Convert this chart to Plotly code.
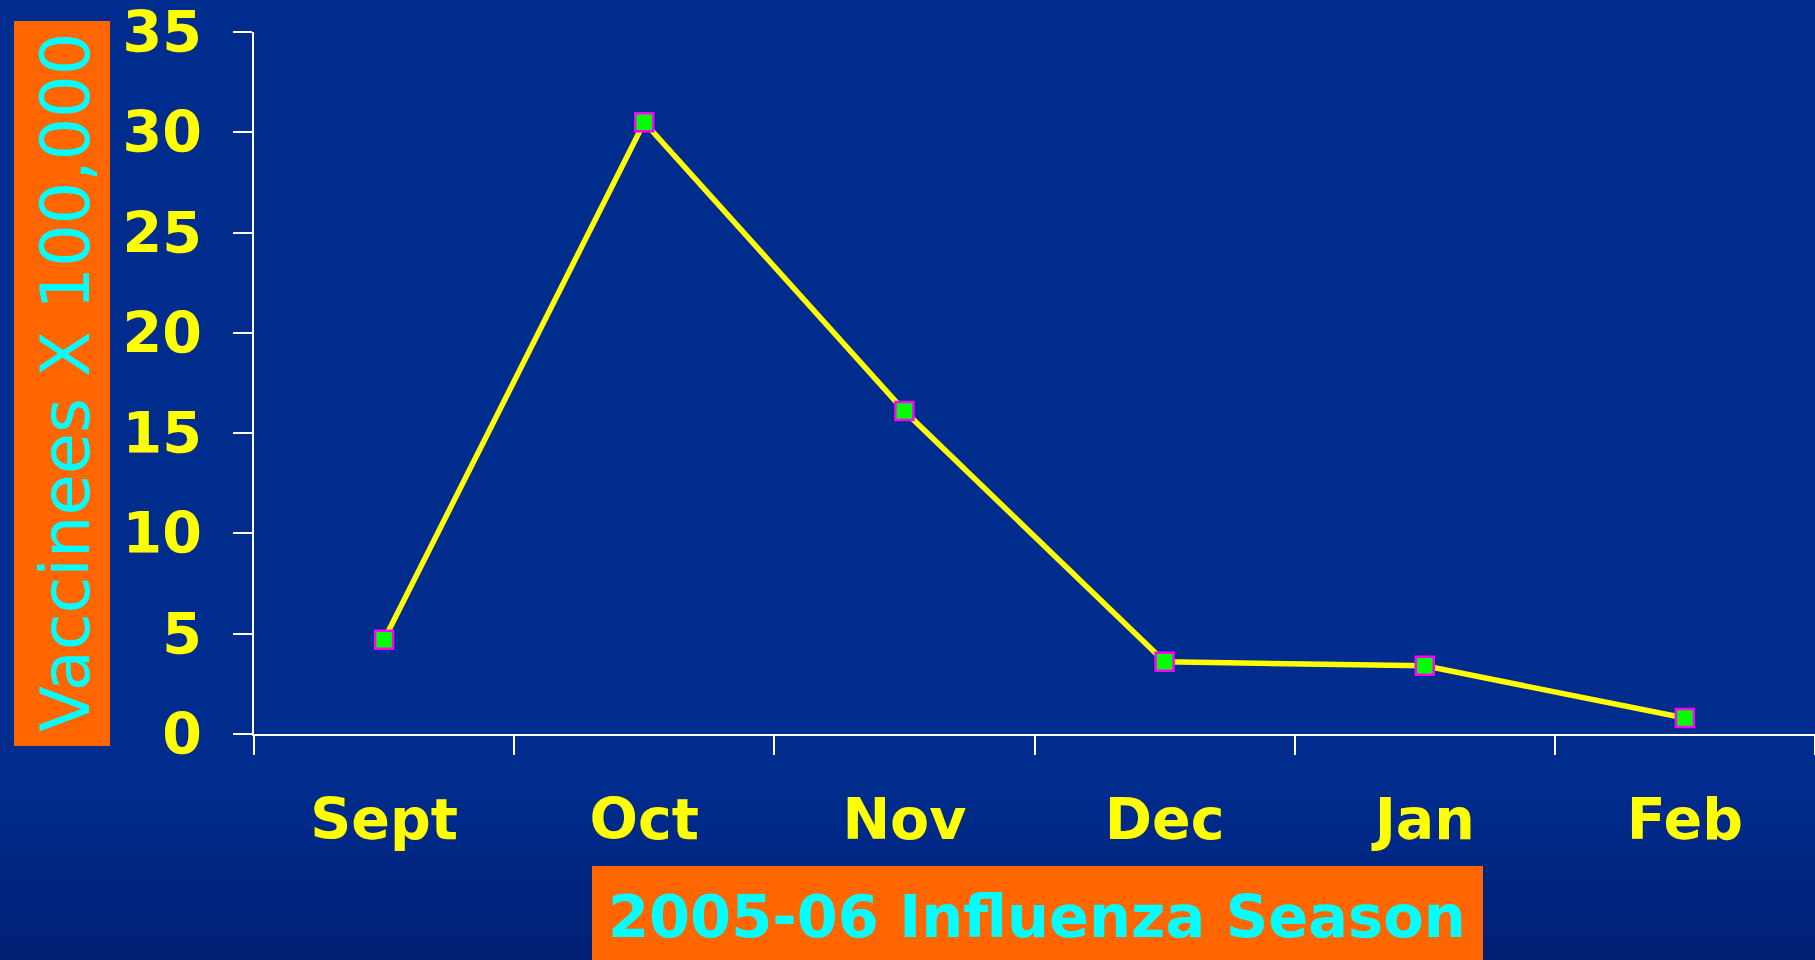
import plotly.graph_objects as go

# ---- data ----
months = ["Sept", "Oct", "Nov", "Dec", "Jan", "Feb"]
vaccinees = [4.7, 30.5, 16.1, 3.6, 3.4, 0.8]   # Vaccinees x 100,000
y_ticks = [0, 5, 10, 15, 20, 25, 30, 35]
y_title = "Vaccinees X 100,000"
x_title = "2005-06 Influenza Season"

W, H = 1815, 960
L, R, T, B = 254, 0, 32, 226
PW, PH = W - L - R, H - T - B

def px(x):
    return (x - L) / PW

def py(y):
    return (H - B - y) / PH

YELLOW = "#ffff00"
CYAN = "#00ffff"
ORANGE = "#ff6600"

fig = go.Figure()
fig.add_trace(go.Scatter(
    x=months, y=vaccinees, mode="lines+markers",
    line=dict(color=YELLOW, width=5.5),
    marker=dict(symbol="square", size=18, color="#00ff00",
                line=dict(color="#ff00ff", width=2.5)),
    hoverinfo="x+y", showlegend=False,
))

shapes = []
# subtle darkening towards the bottom (background vignette)
for i in range(6):
    y0 = 800 + i * 27
    shapes.append(dict(type="rect", xref="paper", yref="paper", layer="below",
                       x0=px(0), x1=px(W), y0=py(H), y1=py(y0),
                       fillcolor="rgba(0,0,40,0.035)", line=dict(width=0)))
# orange title boxes
shapes.append(dict(type="rect", xref="paper", yref="paper",
                   x0=px(14), x1=px(110), y0=py(746), y1=py(21),
                   fillcolor=ORANGE, line=dict(width=0)))
shapes.append(dict(type="rect", xref="paper", yref="paper",
                   x0=px(592), x1=px(1483), y0=py(H), y1=py(866),
                   fillcolor=ORANGE, line=dict(width=0)))

annotations = [
    dict(text=y_title, xref="paper", yref="paper", x=px(66), y=py(383),
         xanchor="center", yanchor="middle", textangle=-90, showarrow=False,
         font=dict(family="DejaVu Sans", size=67, color=CYAN)),
    dict(text=x_title, xref="paper", yref="paper", x=px(1037), y=py(916),
         xanchor="center", yanchor="middle", showarrow=False,
         font=dict(family="DejaVu Sans", size=59, color=CYAN, weight="bold")),
]

fig.update_layout(
    width=W, height=H,
    margin=dict(l=L, r=R, t=T, b=B, pad=0),
    paper_bgcolor="#002c8e",
    plot_bgcolor="rgba(0,0,0,0)",
    shapes=shapes,
    annotations=annotations,
    xaxis=dict(
        type="category", range=[-0.5, 5.5], tickson="boundaries",
        ticks="outside", ticklen=19, tickwidth=1.5, tickcolor="white",
        showline=True, linecolor="white", linewidth=1.5,
        showgrid=False, zeroline=False, ticklabelstandoff=35,
        ticklabeloverflow="allow",
        tickfont=dict(family="DejaVu Sans", size=57, color=YELLOW, weight="bold"),
    ),
    yaxis=dict(
        range=[0, 35], tickvals=y_ticks, ticktext=[str(v) for v in y_ticks],
        ticks="outside", ticklen=19, tickwidth=1.5, tickcolor="white",
        showline=True, linecolor="white", linewidth=1.5,
        showgrid=False, zeroline=False, ticklabelstandoff=20,
        ticklabeloverflow="allow",
        tickfont=dict(family="DejaVu Sans", size=57, color=YELLOW, weight="bold"),
    ),
)

fig.write_html("out.html", config={"displayModeBar": False},
               post_script="document.body.style.margin='0';document.body.style.overflow='hidden';")
